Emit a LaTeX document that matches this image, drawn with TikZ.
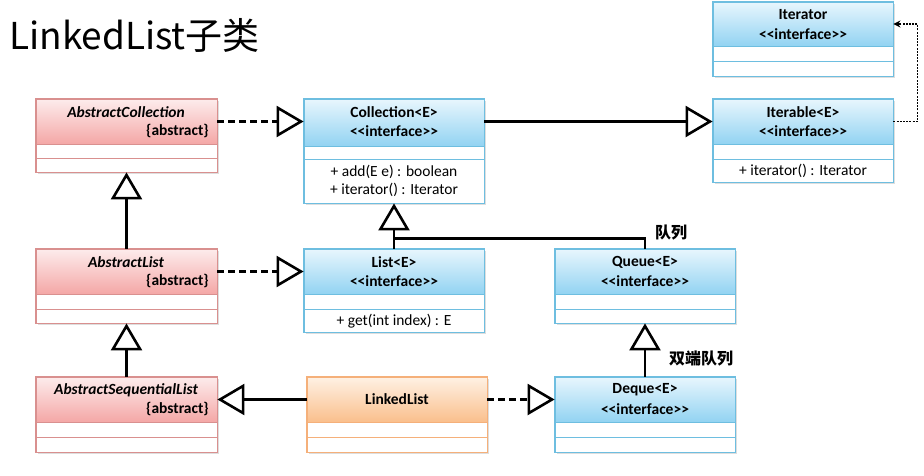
\documentclass[tikz,border=0pt]{standalone}
\usepackage{fontspec}
\setmainfont{Carlito}
\newfontfamily\cjk{Noto Sans CJK SC}
\usetikzlibrary{arrows.meta,fit,shadows,calc}
\definecolor{redtop}{HTML}{FDECEC}
\definecolor{redbot}{HTML}{F4A7A6}
\definecolor{redline}{HTML}{D9908F}
\definecolor{bluetop}{HTML}{E8F6FD}
\definecolor{bluebot}{HTML}{92D3F2}
\definecolor{blueline}{HTML}{6EBEE0}
\definecolor{orgtop}{HTML}{FEF1E4}
\definecolor{orgbot}{HTML}{FABF8C}
\definecolor{orgline}{HTML}{F5B07A}
\tikzset{
  clsfont/.style={font=\fontsize{15.5}{17}\selectfont\bfseries, inner sep=0},
  absfont/.style={font=\fontsize{15.5}{17}\selectfont\bfseries\itshape, inner sep=0},
  mfont/.style={font=\fontsize{15.5}{17}\selectfont, inner sep=0},
  gen/.style={line width=2.6pt, -{Triangle[open, length=27pt, width=31pt, fill=white]}},
  real/.style={gen, dash pattern=on 7pt off 4pt},
  usedep/.style={line width=1.2pt, dash pattern=on 2pt off 1.2pt, -{Stealth[length=7pt,width=7pt]}},
  cnlabel/.style={font=\cjk\bfseries\fontsize{16}{18}\selectfont, inner sep=0},
}
\newcommand\umlcls[8]{%
  \path (#2,#3) coordinate (#1-nw) ++(#4,{#5+#6+#7}) coordinate (#1-se);
  \path (#1-nw) ++(#4,#5) coordinate (#1-hse);
  \node[fit=(#1-nw)(#1-se), inner sep=0, draw=#8line, line width=0.8pt, fill=white,
        drop shadow={shadow xshift=1.5pt, shadow yshift=-1.5pt, fill=black!25}] (#1) {};
  \node[fit=(#1-nw)(#1-hse), inner sep=0, top color=#8top, bottom color=#8bot,
        draw=#8line, line width=0.8pt] (#1-h) {};
  \draw[#8line, line width=0.8pt] (#1-nw) ++(0,{#5+#6}) -- ++(#4,0);
  \draw[#8line, line width=0.8pt] (#1.north west) rectangle (#1.south east);
}
\begin{document}
\begin{tikzpicture}[x=1pt, y=-1pt]
\useasboundingbox (0,0) rectangle (924,475);
\fill[white] (0,0) rectangle (924,475);

\node[anchor=base west, inner sep=0, font=\cjk\fontsize{37}{40}\selectfont] (title) at (9,49) {LinkedList子类};

% classes
\umlcls{ac}{36}{99}{181}{45}{14}{14}{red}
\umlcls{coll}{304}{99}{180}{47}{13}{44}{blue}
\umlcls{itb}{713}{99}{180}{45}{15}{23}{blue}
\umlcls{itr}{713}{2}{180}{44}{15}{15}{blue}
\umlcls{al}{36}{249}{181}{45}{15}{14}{red}
\umlcls{list}{304}{249}{180}{45}{15}{23}{blue}
\umlcls{queue}{555}{249}{180}{45}{15}{14}{blue}
\umlcls{asl}{36}{377}{181}{45}{15}{15}{red}
\umlcls{ll}{307}{377}{180}{45}{15}{15}{org}
\umlcls{deque}{555}{377}{180}{45}{15}{15}{blue}

% header texts
\node[absfont] (ac-t1) at (126,112) {AbstractCollection};
\node[clsfont, anchor=east] (ac-t2) at (209,131) {\{abstract\}};
\node[absfont] (al-t1) at (126,262) {AbstractList};
\node[clsfont, anchor=east] (al-t2) at (209,281) {\{abstract\}};
\node[absfont] (asl-t1) at (126,390) {AbstractSequentialList};
\node[clsfont, anchor=east] (asl-t2) at (209,409) {\{abstract\}};

\node[clsfont] (coll-t1) at (394,112) {Collection<E>};
\node[clsfont] (coll-t2) at (394,131) {<{}<interface>{}>};
\node[clsfont] (itb-t1) at (803,112) {Iterable<E>};
\node[clsfont] (itb-t2) at (803,131) {<{}<interface>{}>};
\node[clsfont] (itr-t1) at (803,15) {Iterator};
\node[clsfont] (itr-t2) at (803,34) {<{}<interface>{}>};
\node[clsfont] (list-t1) at (394,262) {List<E>};
\node[clsfont] (list-t2) at (394,281) {<{}<interface>{}>};
\node[clsfont] (queue-t1) at (645,262) {Queue<E>};
\node[clsfont] (queue-t2) at (645,281) {<{}<interface>{}>};
\node[clsfont] (deque-t1) at (645,390) {Deque<E>};
\node[clsfont] (deque-t2) at (645,409) {<{}<interface>{}>};
\node[clsfont] (ll-t1) at (397,399) {LinkedList};

% methods
\node[mfont] (coll-m1) at (394,172) {+ add(E e) : boolean};
\node[mfont] (coll-m2) at (394,190) {+ iterator() : Iterator};
\node[mfont] (itb-m1) at (803,171) {+ iterator() : Iterator};
\node[mfont] (list-m1) at (394,321) {+ get(int index) : E};

% connectors
\draw[real] (ac-h.east) -- (ac-h.east -| coll.west);
\draw[gen] (coll-h.east |- itb-h.east) -- (itb-h.west);
\draw[usedep] (itb-h.east) -- ++(24,0) |- (itr-h.east);
\draw[gen] (al.north) -- (ac.south);
\draw[real] (al-h.east) -- (list-h.west);
\coordinate (jn) at ($(list.north)+(0,-10)$);
\draw[gen] (list.north) -- (coll.south);
\draw[line width=2.6pt] (queue.north) |- (jn);
\draw[gen] (asl.north) -- (al.south);
\draw[gen] (ll-h.west) -- (asl-h.east);
\draw[real] (ll-h.east) -- (deque-h.west);
\draw[gen] (deque.north) -- (queue.south);

\node[cnlabel, anchor=west] (lq) at (655,233) {队列};
\node[cnlabel, anchor=west] (ldq) at (669,359) {双端队列};
\end{tikzpicture}
\end{document}
